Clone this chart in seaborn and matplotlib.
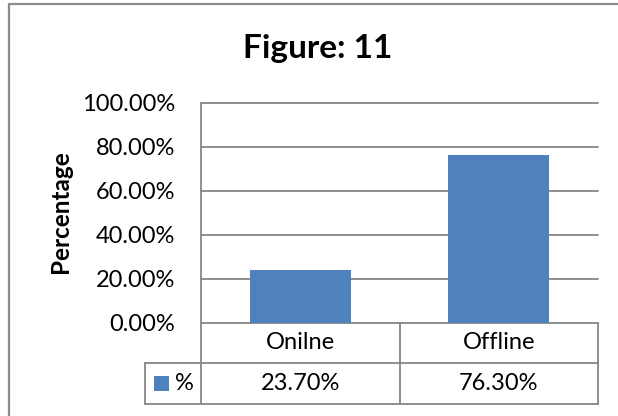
import matplotlib
matplotlib.use("Agg")
import matplotlib.pyplot as plt
import seaborn as sns
import pandas as pd
from matplotlib.patches import Rectangle
from matplotlib.lines import Line2D

# ---- data ----
categories = ["Onilne", "Offline"]
values = [23.7, 76.3]
y_ticks = [0, 20, 40, 60, 80, 100]
series_name = "%"
title_text = "Figure: 11"
y_label = "Percentage"

# ---- style ----
sns.set_theme(style="white")
plt.rcParams["font.family"] = ["Lato", "DejaVu Sans"]
BAR = "#4F81BD"
GRID = "#868686"
BORDER = "#8C8C8C"
FS = 17

W, H = 618, 416
fig = plt.figure(figsize=(W / 100, H / 100), dpi=100)
fig.patch.set_facecolor("white")

# plot area in pixels
PL, PR, PT, PB = 201, 598, 102.7, 322.5
pw, ph = PR - PL, PB - PT
ax = fig.add_axes([PL / W, 1 - PB / H, pw / W, ph / H])
ax.set_facecolor("none")

df = pd.DataFrame({"cat": categories, "val": values})
sns.barplot(data=df, x="cat", y="val", color=BAR, saturation=1, width=0.51,
            ax=ax, zorder=2, edgecolor="none", linewidth=0)
ax.set_xlim(-0.5, len(categories) - 0.5)
ax.set_ylim(0, 100)
ax.set_yticks(y_ticks)
ax.set_yticklabels([f"{t:.2f}%" for t in y_ticks])
ax.tick_params(axis="y", length=0, pad=18.5, labelsize=FS, colors="black")
ax.set_xticks([])
ax.set_xlabel("")
ax.set_ylabel("")
for s in ax.spines.values():
    s.set_visible(False)

lw = 1.3
for t in y_ticks:
    ax.axhline(t, color=GRID, lw=lw, zorder=1, clip_on=False)

# ---- data table below plot ----
r1 = -40 / ph
r2 = -81.5 / ph
leg_left = -(PL - 145) / pw
ta = ax.transAxes
xt = ax.get_xaxis_transform()

def line(xs, ys, tr):
    ax.add_line(Line2D(xs, ys, transform=tr, color=GRID, lw=lw, clip_on=False, zorder=3))

line([0, 0], [r2, 1], ta)           # left axis line through table
line([1, 1], [r2, 0], ta)           # right edge of table
line([leg_left, 1], [r1, r1], ta)
line([leg_left, 1], [r2, r2], ta)
line([leg_left, leg_left], [r2, r1], ta)
for i in range(len(categories) - 1):
    line([i + 0.5, i + 0.5], [r2, 0], xt)

for i, (c, v) in enumerate(zip(categories, values)):
    ax.text(i, r1 / 2, c, transform=xt, ha="center", va="center",
            fontsize=FS, color="black", clip_on=False)
    ax.text(i, (r1 + r2) / 2, f"{v:.2f}%", transform=xt, ha="center", va="center",
            fontsize=FS, color="black", clip_on=False)

# legend key in table
ax.add_patch(Rectangle((leg_left + 9 / pw, (r1 + r2) / 2 - 7.5 / ph), 15 / pw, 15 / ph,
                       transform=ta, facecolor=BAR, edgecolor="none", clip_on=False))
ax.text(leg_left + 30 / pw, (r1 + r2) / 2, series_name, transform=ta, ha="left",
        va="center", fontsize=FS, color="black", clip_on=False)

# ---- title and axis label ----
fig.text(317.5 / W, 1 - 58 / H, title_text, ha="center", va="baseline",
         fontsize=24, fontweight="bold", color="black")
fig.text(61 / W, 1 - 211.5 / H, y_label, rotation=90, ha="center", va="center",
         fontsize=17.5, fontweight="bold", color="black")

# ---- outer chart border (only top and left edges fall inside the image) ----
bx, by = 8.5 / W, 1 - 3.5 / H
fig.add_artist(Line2D([bx, bx], [0, by], transform=fig.transFigure, color=BORDER, lw=1.6))
fig.add_artist(Line2D([bx, 1], [by, by], transform=fig.transFigure, color=BORDER, lw=1.6))

fig.savefig("out.png", dpi=100)
